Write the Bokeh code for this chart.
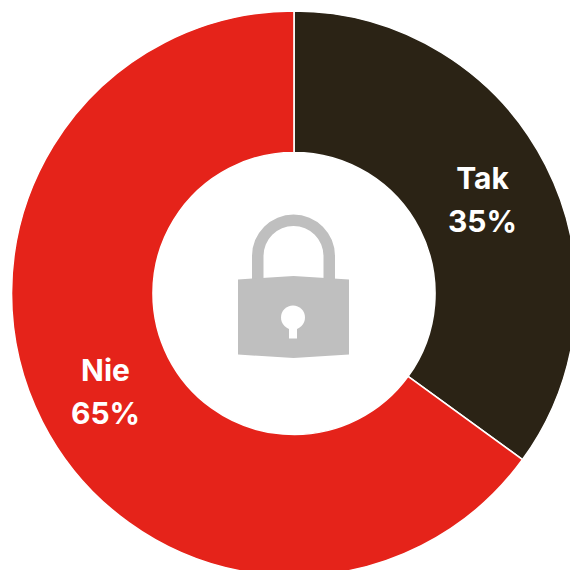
from math import pi
from bokeh.plotting import figure
from bokeh.models import Range1d
from bokeh.core.properties import value
from bokeh.embed import file_html
from bokeh.resources import INLINE

categories = ["Tak", "Nie"]
shares = [35, 65]
colors = ["#2b2315", "#e5231a"]
label_x = [482.5, 105.5]
label_name_y = [570 - 178, 570 - 370]
label_pct_y = [570 - 221.5, 570 - 413.5]

p = figure(width=570, height=570, output_backend="svg", toolbar_location=None,
           x_range=Range1d(0.5, 570.5), y_range=Range1d(-1, 569), min_border=0)
p.axis.visible = False
p.grid.visible = False
p.outline_line_color = None
p.background_fill_color = "white"
p.border_fill_color = "white"

cx, cy = 294, 276
start = pi / 2
for name, share, col in zip(categories, shares, colors):
    end = start - share / sum(shares) * 2 * pi
    p.annular_wedge(x=cx, y=cy, inner_radius=141.0, outer_radius=282.5,
                    start_angle=end, end_angle=start, fill_color=col,
                    line_color="white", line_width=1.6)
    start = end

grey = "#bfbfbf"
p.annular_wedge(x=293.5, y=570 - 256.5, inner_radius=30, outer_radius=41.5,
                start_angle=0, end_angle=pi, fill_color=grey, line_color=None)
p.quad(left=[252, 323.5], right=[263.5, 335], bottom=570 - 282, top=570 - 256.5,
       fill_color=grey, line_color=None)
p.patch(x=[238, 293.5, 349, 349, 293.5, 238],
        y=[570 - 280, 570 - 276.5, 570 - 280, 570 - 355, 570 - 358.5, 570 - 355],
        fill_color=grey, line_color=None)
p.circle(x=293, y=570 - 318, radius=12, fill_color="white", line_color=None)
p.quad(left=289, right=297, bottom=570 - 339, top=570 - 322,
       fill_color="white", line_color=None)

for i, name in enumerate(categories):
    for txt, y in ((name, label_name_y[i]), (f"{shares[i]}%", label_pct_y[i])):
        p.text(x=[label_x[i]], y=[y], text=[txt], text_color="white",
               text_font=value("Inter"), text_font_style="bold",
               text_font_size="30px", text_align="center", text_baseline="middle")

open("out.html", "w").write(file_html(p, INLINE))
